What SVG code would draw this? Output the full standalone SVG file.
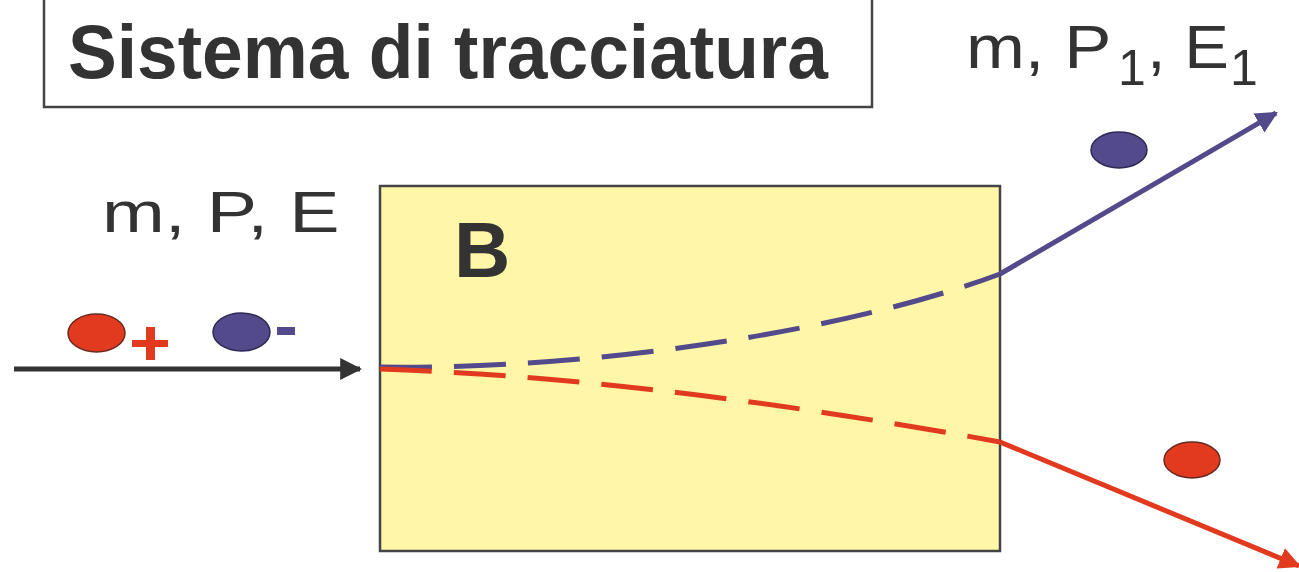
<svg xmlns="http://www.w3.org/2000/svg" width="1299" height="572" viewBox="0 0 1299 572">
<defs>
<style>
.t{font-family:"Liberation Sans",Arial,sans-serif;fill:#333333}
.red{fill:#e23a1f;stroke:#6a2a20;stroke-width:1.5}
.blue{fill:#524a8a;stroke:#2e2a55;stroke-width:1.5}
</style>
<marker id="ab" viewBox="0 0 10 10" refX="9" refY="5" markerWidth="22" markerHeight="22" orient="auto" markerUnits="userSpaceOnUse"><path d="M0,0 L10,5 L0,10 z" fill="#524a8a"/></marker>
<marker id="ar" viewBox="0 0 10 10" refX="9" refY="5" markerWidth="22" markerHeight="22" orient="auto" markerUnits="userSpaceOnUse"><path d="M0,0 L10,5 L0,10 z" fill="#e23a1f"/></marker>
<marker id="abk" viewBox="0 0 10 10" refX="9" refY="5" markerWidth="22" markerHeight="22" orient="auto" markerUnits="userSpaceOnUse"><path d="M0,0 L10,5 L0,10 z" fill="#333"/></marker>
</defs>
<g id="title">
<rect x="44" y="-10" width="828" height="117" fill="#fff" stroke="#444" stroke-width="2.5"/>
<text class="t" x="68" y="78" font-size="76" font-weight="bold" textLength="760" lengthAdjust="spacingAndGlyphs">Sistema di tracciatura</text>
</g>
<g id="field">
<rect x="380" y="186" width="620" height="365" fill="#fff6a8" stroke="#444" stroke-width="2.5"/>
<text class="t" x="454" y="277" font-size="78" font-weight="bold">B</text>
</g>
<g id="labels">
<text class="t" transform="translate(102,232) scale(1.3,1)" font-size="58">m, P, E</text>
<text class="t" transform="translate(966,68) scale(1.14,1)" font-size="62">m, P</text>
<text class="t" x="1118" y="85" font-size="50">1</text>
<text class="t" transform="translate(1147,68) scale(1.08,1)" font-size="62">, E</text>
<text class="t" x="1230" y="85" font-size="50">1</text>
</g>
<g id="particles">
<ellipse class="red" cx="96.5" cy="333" rx="28.5" ry="19"/>
<rect x="132" y="340" width="36" height="7" fill="#e23a1f"/>
<rect x="146" y="327" width="9" height="33" fill="#e23a1f"/>
<ellipse class="blue" cx="241.5" cy="332" rx="28.5" ry="19"/>
<rect x="277" y="327" width="18" height="8" fill="#524a8a"/>
<ellipse class="blue" cx="1119" cy="150" rx="28" ry="18"/>
<ellipse class="red" cx="1192" cy="460" rx="28" ry="18"/>
</g>
<g id="connectors" fill="none" stroke-width="5">
<line x1="14" y1="369" x2="360" y2="369" stroke="#333" marker-end="url(#abk)"/>
<path d="M380,367 C600,370 850,330 1000,274" stroke="#524a8a" stroke-dasharray="52,22"/>
<path d="M1000,274 L1276,113" stroke="#524a8a" marker-end="url(#ab)"/>
<path d="M380,369 Q650,378 1000,442" stroke="#e23a1f" stroke-dasharray="52,22"/>
<path d="M1000,442 L1299,566" stroke="#e23a1f" marker-end="url(#ar)"/>
</g>
</svg>
